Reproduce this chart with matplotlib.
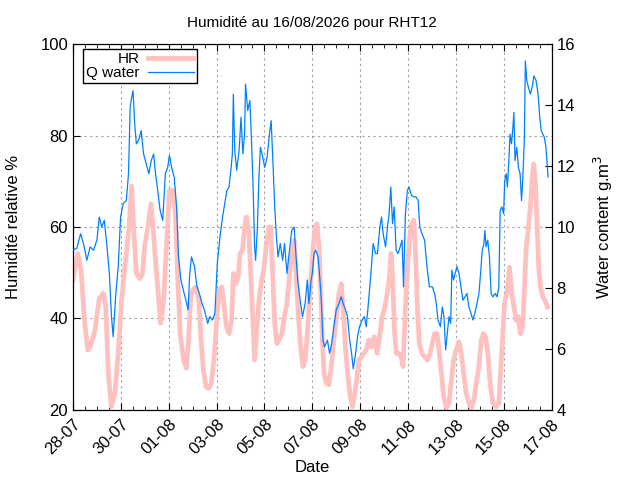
import numpy as np
import matplotlib
matplotlib.use("Agg")
import matplotlib.pyplot as plt
import matplotlib.dates as mdates
from matplotlib.ticker import FixedLocator, MultipleLocator

plt.rcParams['font.family'] = ['Liberation Sans', 'DejaVu Sans']

# time axis: days since 28/07/2026 00:00
start = np.datetime64('2026-07-28T00:00')
n_days = 20

# relative humidity (%)
hr_day = [0, 0.2, 0.34, 0.48, 0.62, 0.75, 0.92, 1.1, 1.27, 1.37, 1.48, 1.6, 1.75, 1.89,
          2.03, 2.2, 2.34, 2.45, 2.55, 2.65, 2.79, 2.9, 2.99, 3.13, 3.26, 3.34, 3.45, 3.56,
          3.66, 3.78, 3.92, 4.03, 4.17, 4.28, 4.37, 4.48, 4.62, 4.74, 4.83, 4.92,
          5.0, 5.14, 5.26, 5.35, 5.45, 5.56, 5.67, 5.78, 5.89, 6.0, 6.11, 6.22, 6.32, 6.41,
          6.52, 6.63, 6.7, 6.8, 6.9, 6.98, 7.08, 7.17, 7.24, 7.35, 7.43, 7.52, 7.59, 7.67,
          7.77, 7.88, 7.97, 8.07, 8.18, 8.26, 8.34, 8.43, 8.52, 8.62, 8.73, 8.83, 8.94, 9.05,
          9.14, 9.24, 9.32, 9.42, 9.52, 9.61, 9.7, 9.79, 9.9, 10.03,
          10.11, 10.19, 10.28, 10.35, 10.42, 10.49, 10.58, 10.69, 10.79, 10.9, 11.01, 11.11,
          11.21, 11.31, 11.39, 11.49, 11.58, 11.67, 11.76, 11.85, 11.94, 12.06, 12.15, 12.25,
          12.36, 12.47, 12.58, 12.71, 12.81, 12.92, 13.03, 13.13, 13.21, 13.29, 13.36, 13.43,
          13.51, 13.61, 13.71, 13.79, 13.89, 13.97, 14.06, 14.14, 14.24, 14.32, 14.39, 14.47,
          14.58, 14.69, 14.81, 14.92,
          15.01, 15.11, 15.21, 15.29, 15.39, 15.49, 15.6, 15.71, 15.81, 15.9, 16.01, 16.13,
          16.22, 16.32, 16.43, 16.54, 16.64, 16.75, 16.85, 16.96, 17.06, 17.15, 17.24, 17.33,
          17.43, 17.54, 17.68, 17.79, 17.86, 17.93, 18.03, 18.13, 18.24, 18.33, 18.42, 18.51,
          18.6, 18.69, 18.79, 18.86, 18.93, 19.03, 19.11, 19.18, 19.25, 19.32, 19.39, 19.46,
          19.53, 19.63, 19.72, 19.83]
hr_val = [48.4, 54.2, 50.5, 39.6, 33.1, 34.2, 37.5, 44.4, 45.5, 42.5, 28.0, 20.7, 23.6, 32.4,
          44.0, 52.7, 60.0, 69.0, 58.5, 49.8, 48.7, 49.8, 55.6, 60.0, 65.1, 60.4, 52.7, 45.5,
          39.0, 43.3, 57.1, 68.0, 68.0, 62.9, 49.8, 36.7, 30.9, 29.1, 35.3, 44.7,
          46.2, 46.9, 44.0, 35.3, 28.7, 25.1, 24.7, 25.8, 30.9, 38.9, 46.2, 46.9, 42.5, 38.2,
          36.7, 39.6, 49.8, 47.6, 49.1, 54.2, 54.9, 60.0, 62.2, 58.5, 49.8, 38.9, 30.9, 36.7,
          44.0, 48.4, 50.5, 55.6, 60.0, 60.0, 49.8, 38.9, 34.5, 35.3, 36.7, 40.4, 43.3, 49.8,
          54.2, 57.1, 49.8, 40.4, 33.1, 29.5, 30.9, 36.7, 46.0, 55.0,
          60.0, 60.7, 55.6, 46.2, 35.3, 28.0, 25.8, 25.5, 29.5, 35.3, 40.4, 45.5,
          47.6, 40.4, 33.1, 27.3, 22.9, 20.7, 22.9, 26.5, 30.9, 31.6, 32.4, 33.1,
          35.3, 33.8, 36.0, 32.4, 36.0, 40.4, 42.5, 45.5, 48.4, 54.2, 48.4, 37.5,
          32.4, 32.4, 31.6, 29.5, 42.5, 51.2, 57.1, 60.7, 61.5, 53.5, 42.5, 34.5,
          32.4, 31.6, 30.9, 32.4,
          34.5, 36.7, 36.7, 33.1, 28.0, 22.9, 20.4, 21.5, 26.5, 30.9, 33.1, 34.9,
          32.4, 28.0, 23.6, 21.5, 20.4, 22.2, 25.8, 29.5, 35.3, 36.7, 36.0, 32.4,
          25.8, 21.5, 20.7, 21.5, 28.0, 33.8, 43.3, 45.5, 51.2, 45.5, 42.5, 39.6,
          40.4, 36.7, 38.2, 46.2, 55.1, 60.0, 64.4, 70.2, 73.8, 69.5, 60.0, 51.2,
          46.9, 44.7, 44.0, 42.5]

# water content (g/m3)
q_day = [0, 0.16, 0.32, 0.44, 0.58, 0.72, 0.86, 1.0, 1.1, 1.2, 1.31, 1.41, 1.52, 1.61, 1.68,
         1.79, 1.89, 1.99, 2.1, 2.23, 2.32, 2.39, 2.45, 2.51, 2.58, 2.65, 2.74, 2.85, 2.95,
         3.06, 3.17, 3.27, 3.37, 3.45, 3.54, 3.64, 3.75, 3.86, 3.96, 4.03, 4.12, 4.23, 4.33,
         4.41, 4.51, 4.61, 4.72, 4.81, 4.88, 4.95,
         5.08, 5.18, 5.28, 5.39, 5.49, 5.63, 5.72, 5.83, 5.93, 6.03, 6.14, 6.25, 6.34, 6.43,
         6.52, 6.61, 6.66, 6.7, 6.76, 6.84, 6.94, 7.02, 7.1, 7.17, 7.21, 7.3, 7.39, 7.46,
         7.53, 7.59, 7.63, 7.7, 7.77, 7.83, 7.9, 8.01, 8.11, 8.21, 8.28, 8.34, 8.43, 8.5,
         8.57, 8.66, 8.76, 8.84, 8.94, 9.03, 9.14, 9.24, 9.31, 9.39, 9.49, 9.59, 9.7, 9.79,
         9.86, 9.95,
         10.0, 10.07, 10.14, 10.24, 10.32, 10.39, 10.44, 10.51, 10.63, 10.72, 10.81, 10.9,
         11.0, 11.11, 11.21, 11.29, 11.39, 11.47, 11.56, 11.64, 11.71, 11.81, 11.89, 11.97,
         12.08, 12.18, 12.25, 12.33, 12.4, 12.47, 12.54, 12.64, 12.72, 12.82, 12.89, 12.96,
         13.06, 13.14, 13.21, 13.28, 13.35, 13.42, 13.5, 13.58, 13.67, 13.75, 13.81, 13.89,
         13.97, 14.04, 14.14, 14.24, 14.33, 14.42, 14.49, 14.58, 14.69, 14.79, 14.89,
         15.01, 15.11, 15.18, 15.25, 15.35, 15.43, 15.5, 15.57, 15.64, 15.71, 15.78, 15.83,
         15.9, 15.97, 16.04, 16.13, 16.21, 16.29, 16.38, 16.46, 16.54, 16.63, 16.71, 16.79,
         16.88, 16.96, 17.03, 17.1, 17.17, 17.21, 17.26, 17.33, 17.4, 17.47, 17.54, 17.64,
         17.72, 17.79, 17.85, 17.92, 17.99, 18.04, 18.1, 18.15, 18.21, 18.26, 18.32, 18.38,
         18.42, 18.47, 18.54, 18.61, 18.68, 18.74, 18.79, 18.86, 18.9, 18.96, 19.03, 19.11,
         19.18, 19.26, 19.35, 19.43, 19.49, 19.56, 19.63, 19.69, 19.76, 19.82, 19.85]
q_val = [9.24, 9.3, 9.78, 9.46, 8.91, 9.35, 9.24, 9.57, 10.33, 10.0, 10.22, 9.46, 8.48, 7.06, 6.4,
         7.82, 8.7, 10.33, 10.77, 10.87, 11.75, 13.93, 14.25, 14.47, 13.38, 12.73, 12.84, 13.16, 12.4,
         12.07, 11.75, 12.18, 12.4, 11.75, 11.2, 10.55, 10.22, 11.75, 11.96, 12.35, 11.96, 11.64, 10.66,
         9.02, 8.26, 7.93, 7.6, 7.28, 8.48, 9.02,
         8.7, 8.04, 7.82, 7.49, 7.28, 6.84, 7.06, 6.95, 7.17, 8.8, 9.67, 10.33, 10.77, 11.2,
         11.31, 11.96, 12.4, 14.36, 12.51, 11.86, 12.51, 13.6, 12.4, 13.05, 14.69, 13.82, 14.15, 12.84,
         11.2, 9.35, 8.91, 9.89, 11.64, 12.62, 12.4, 11.96, 12.29, 13.05, 13.49, 12.4, 10.66, 9.67,
         9.02, 9.46, 8.91, 9.46, 8.48, 9.13, 9.89, 10.0, 9.13, 8.26, 7.6, 7.06, 7.49, 8.26,
         7.49, 8.26,
         8.48, 9.13, 9.24, 9.02, 8.26, 7.38, 6.29, 6.07, 6.29, 5.86, 6.18, 6.73,
         7.28, 7.49, 7.71, 7.49, 7.28, 7.06, 6.29, 5.86, 5.35, 5.86, 6.4, 6.73,
         6.95, 7.06, 6.73, 7.38, 8.04, 8.7, 9.46, 9.13, 9.13, 10.0, 10.33, 9.78,
         9.35, 10.0, 10.44, 11.31, 10.11, 10.66, 9.24, 9.13, 9.35, 9.57, 8.04, 10.44,
         11.2, 11.31, 11.04, 10.99, 10.99, 10.87, 10.0, 9.78, 9.57, 8.7, 8.04,
         8.04, 7.82, 7.49, 6.95, 6.73, 7.38, 7.06, 5.97, 6.51, 7.06, 6.84, 8.59,
         8.26, 8.48, 8.7, 8.48, 8.04, 7.6, 7.71, 7.82, 7.38, 7.17, 6.95, 7.17,
         7.49, 7.82, 8.48, 9.24, 9.46, 9.89, 9.35, 9.57, 9.02, 7.82, 7.71, 7.82,
         7.71, 8.04, 10.55, 10.66, 10.44, 11.53, 11.75, 11.31, 12.18, 13.05, 12.73, 13.27,
         13.76, 12.18, 12.62, 11.96, 11.75, 10.87, 11.53, 12.95, 15.45, 14.8, 14.58, 14.36,
         14.58, 14.96, 14.8, 14.36, 13.71, 13.16, 13.05, 12.95, 12.62, 11.96, 11.64]


def to_dates(days):
    mins = np.round(np.asarray(days) * 1440).astype('timedelta64[m]')
    return mdates.date2num(start + mins)


fig = plt.figure(figsize=(6.4, 4.8), dpi=100)
ax = fig.add_axes([0.114, 0.146, 0.748, 0.762])
ax2 = ax.twinx()

ax.plot(to_dates(hr_day), hr_val, color='#ffc0c0', lw=3.4, label='HR', zorder=2)
ax2.plot(to_dates(q_day), q_val, color='#0080ff', lw=0.9, label='Q water', zorder=3)

x0 = mdates.date2num(start)
ax.set_xlim(x0, x0 + n_days)
ax.set_ylim(20, 100)
ax2.set_ylim(4, 16)

ax.xaxis.set_major_locator(FixedLocator(x0 + np.arange(0, n_days + 1, 2)))
ax.xaxis.set_minor_locator(MultipleLocator(0.5))
ax.xaxis.set_major_formatter(mdates.DateFormatter('%d-%m'))
ax.set_yticks([20, 40, 60, 80, 100])
ax2.set_yticks([4, 6, 8, 10, 12, 14, 16])

ax.tick_params(axis='x', which='both', direction='in', top=True, labelsize=12)
ax.tick_params(axis='x', which='major', length=5, pad=5)
ax.tick_params(axis='x', which='minor', length=3)
ax.tick_params(axis='y', direction='in', length=5, labelsize=12, right=False)
ax2.tick_params(axis='y', direction='in', length=5, labelsize=12)
for lab in ax.get_xticklabels():
    lab.set_rotation(45)
    lab.set_ha('right')
    lab.set_rotation_mode('anchor')

ax.grid(True, which='major', color='#a0a0a0', ls=(0, (2, 3)), lw=0.8)

ax.set_xlabel('Date', fontsize=12, labelpad=2)
ax.set_ylabel('Humidité relative %', fontsize=12, labelpad=14)
ax2.set_ylabel('Water content g.m$^{3}$', fontsize=12, labelpad=12)
ax.set_title('Humidité au 16/08/2026 pour RHT12', fontsize=11, pad=12)

h1, l1 = ax.get_legend_handles_labels()
h2, l2 = ax2.get_legend_handles_labels()
leg = ax2.legend(h1 + h2, l1 + l2, loc='upper left', bbox_to_anchor=(0.021, 0.986),
                 borderaxespad=0, markerfirst=False, fontsize=11,
                 fancybox=False, framealpha=1, edgecolor='black', handlelength=3.0,
                 borderpad=0.2, labelspacing=0.0, handletextpad=0.55)
leg.get_frame().set_linewidth(1.0)

fig.savefig('out.png', dpi=100)
